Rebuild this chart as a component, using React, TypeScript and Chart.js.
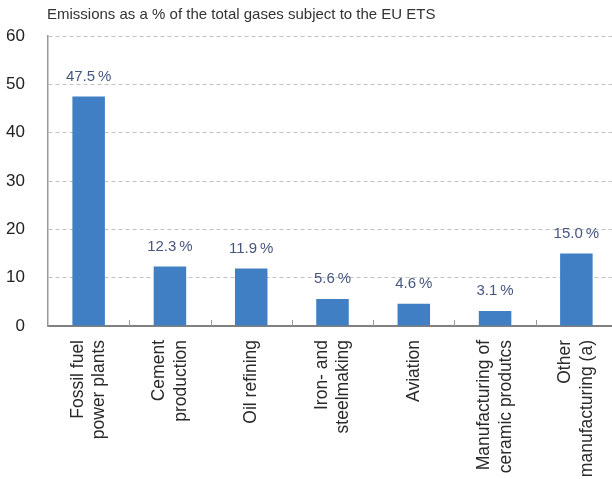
import { useEffect, useRef } from "react";
import { Chart, registerables } from "chart.js";

Chart.register(...registerables);

const categories: string[][] = [
  ["Fossil fuel", "power plants"],
  ["Cement", "production"],
  ["Oil refining"],
  ["Iron- and", "steelmaking"],
  ["Aviation"],
  ["Manufacturing of", "ceramic produtcs"],
  ["Other", "manufacturing (a)"],
];
const values: number[] = [47.5, 12.3, 11.9, 5.6, 4.6, 3.1, 15.0];
const yTicks: number[] = [0, 10, 20, 30, 40, 50, 60];
const chartTitle = "Emissions as a % of the total gases subject to the EU ETS";

const FONT = "'Liberation Sans', Arial, Helvetica, sans-serif";

const decorPlugin = {
  id: "decor",
  afterDatasetsDraw(chart: any) {
    const { ctx, chartArea } = chart;
    const x = chart.scales.x;
    const meta = chart.getDatasetMeta(0);
    ctx.save();
    // value labels
    ctx.font = `15px ${FONT}`;
    ctx.fillStyle = "#46567e";
    ctx.textAlign = "center";
    ctx.textBaseline = "middle";
    meta.data.forEach((el: any, i: number) => {
      ctx.fillText(values[i].toFixed(1) + "\u2009%", el.x, el.y - 20);
    });
    // inward tick marks at category boundaries
    ctx.strokeStyle = "#9a9a9a";
    ctx.lineWidth = 1;
    for (let i = 1; i <= categories.length; i++) {
      const px = Math.round(x.getPixelForValue(i - 0.5)) + 0.5;
      ctx.beginPath();
      ctx.moveTo(px, chartArea.bottom - 6);
      ctx.lineTo(px, chartArea.bottom);
      ctx.stroke();
    }
    ctx.restore();
  },
  afterDraw(chart: any) {
    const { ctx, chartArea } = chart;
    const x = chart.scales.x;
    ctx.save();
    // title
    ctx.font = `15px ${FONT}`;
    ctx.fillStyle = "#333333";
    ctx.textAlign = "left";
    ctx.textBaseline = "middle";
    ctx.fillText(chartTitle, chartArea.left - 1, 15);
    // x category labels, rotated
    ctx.font = `17.5px ${FONT}`;
    ctx.fillStyle = "#2a2a2a";
    const lh = 21.5;
    categories.forEach((lines, i) => {
      const px = x.getPixelForValue(i);
      const n = lines.length;
      lines.forEach((line, j) => {
        const cx = px + (j - (n - 1) / 2) * lh;
        ctx.save();
        ctx.translate(cx, chartArea.bottom + 14);
        ctx.rotate(-Math.PI / 2);
        ctx.textAlign = "right";
        ctx.textBaseline = "middle";
        ctx.fillText(line, 0, 0);
        ctx.restore();
      });
    });
    ctx.restore();
  },
};

export default function App() {
  const canvasRef = useRef<HTMLCanvasElement | null>(null);

  useEffect(() => {
    document.body.style.margin = "0";
    const canvas = canvasRef.current;
    if (!canvas) return;
    const chart = new Chart(canvas, {
      type: "bar",
      data: {
        labels: categories.map((c) => c.join(" ")),
        datasets: [
          {
            data: values,
            backgroundColor: "#407fc3",
            borderWidth: 0,
            categoryPercentage: 1,
            barPercentage: 0.4,
          },
        ],
      },
      options: {
        animation: false,
        responsive: false,
        devicePixelRatio: 1,
        layout: { padding: { top: 36, right: 0, bottom: 0, left: 0 } },
        plugins: {
          legend: { display: false },
          title: { display: false },
          tooltip: { enabled: false },
        },
        scales: {
          x: {
            type: "category",
            offset: true,
            grid: { display: false, drawTicks: false },
            border: { display: true, color: "#808080", width: 2 },
            ticks: { display: false },
            afterFit: (scale: any) => {
              scale.height = 153;
            },
          },
          y: {
            min: 0,
            max: 60,
            afterFit: (scale: any) => {
              scale.width = 48;
            },
            afterBuildTicks: (scale: any) => {
              scale.ticks = yTicks.map((v) => ({ value: v }));
            },
            grid: {
              drawTicks: false,
              color: (ctx: any) => (ctx.tick && ctx.tick.value === 0 ? "rgba(0,0,0,0)" : "#c2c2c2"),
              lineWidth: 1,
            },
            border: { display: true, color: "#999999", width: 1.5, dash: [4, 3] },
            ticks: {
              padding: 23,
              color: "#222222",
              font: { size: 17, family: FONT },
            },
          },
        },
      },
      plugins: [decorPlugin],
    });
    return () => chart.destroy();
  }, []);

  return (
    <div style={{ width: 612, height: 479, overflow: "hidden", position: "relative" }}>
      <canvas ref={canvasRef} width={617} height={479} style={{ display: "block" }} />
    </div>
  );
}
